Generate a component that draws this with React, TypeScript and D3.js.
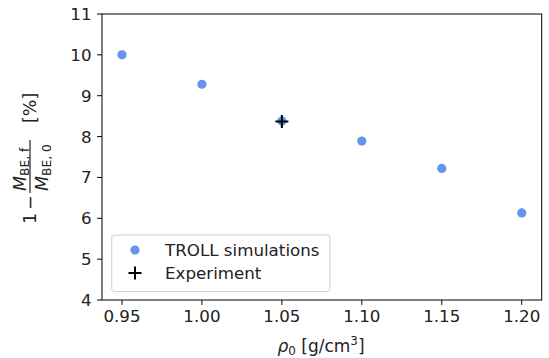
import React from "react";
import * as d3 from "d3";

const rho = [0.95, 1.0, 1.05, 1.1, 1.15, 1.2];
const simValues = [10.0, 9.28, 8.38, 7.89, 7.22, 6.13];
const expRho = [1.05];
const expValues = [8.37];
const xTicks = [0.95, 1.0, 1.05, 1.1, 1.15, 1.2];
const yTicks = [4, 5, 6, 7, 8, 9, 10, 11];
const legendLabels = ["TROLL simulations", "Experiment"];

const W = 549;
const H = 358;
const M = { left: 102, right: 541.7, top: 14, bottom: 300 };
const FONT = "DejaVu Sans";
const FS = 16.7;

export default function App() {
  const x = d3.scaleLinear().domain([0.9375, 1.2125]).range([M.left, M.right]);
  const y = d3.scaleLinear().domain([4, 11]).range([M.bottom, M.top]);
  const fmtX = d3.format(".2f");
  const blue = "#6495ED";
  const plusPath = (cx: number, cy: number, s: number) =>
    `M${cx - s},${cy}H${cx + s}M${cx},${cy - s}V${cy + s}`;

  return (
    <svg
      width={W}
      height={H}
      style={{ position: "absolute", left: 0, top: 0, background: "#fff" }}
      fontFamily={FONT}
    >
      <rect x={0} y={0} width={W} height={H} fill="#fff" />
      {/* ticks */}
      {yTicks.map((t) => (
        <g key={"y" + t}>
          <line x1={M.left - 4.9} x2={M.left} y1={y(t)} y2={y(t)} stroke="#000" strokeWidth={1} />
          <text x={91.5} y={y(t)} dy="0.36em" textAnchor="end" fontSize={FS} fill="#222">
            {t}
          </text>
        </g>
      ))}
      {xTicks.map((t) => (
        <g key={"x" + t}>
          <line x1={x(t)} x2={x(t)} y1={M.bottom} y2={M.bottom + 4.9} stroke="#000" strokeWidth={1} />
          <text x={x(t)} y={M.bottom + 9.5} dy="0.76em" textAnchor="middle" fontSize={FS} fill="#222">
            {fmtX(t)}
          </text>
        </g>
      ))}
      {/* data */}
      {rho.map((r, i) => (
        <circle key={"s" + i} cx={x(r)} cy={y(simValues[i])} r={4.6} fill={blue} />
      ))}
      {expRho.map((r, i) => (
        <path key={"e" + i} d={plusPath(x(r), y(expValues[i]), 6.5)} stroke="#000" strokeWidth={2} fill="none" />
      ))}
      {/* legend */}
      <rect x={111.7} y={235} width={218.3} height={56.5} rx={3} fill="#fff" fillOpacity={0.8} stroke="#d0d0d0" strokeWidth={1} />
      <circle cx={135} cy={250} r={4.6} fill={blue} />
      <path d={plusPath(135, 273, 6.5)} stroke="#000" strokeWidth={2} fill="none" />
      <text x={165} y={250} dy="0.36em" fontSize={FS} fill="#222">{legendLabels[0]}</text>
      <text x={165} y={273} dy="0.36em" fontSize={FS} fill="#222">{legendLabels[1]}</text>
      {/* frame */}
      <rect x={M.left} y={M.top} width={M.right - M.left} height={M.bottom - M.top} fill="none" stroke="#000" strokeWidth={1} />
      {/* x label */}
      <text x={321} y={352} textAnchor="middle" fontSize={17} fill="#222">
        <tspan fontStyle="italic">ρ</tspan>
        <tspan fontSize={11.9} dy={3}>0</tspan>
        <tspan dy={-3}> [g/cm</tspan>
        <tspan fontSize={11.9} dy={-7}>3</tspan>
        <tspan dy={7}>]</tspan>
      </text>
      {/* y label */}
      <g transform="translate(30,224) rotate(-90)" fill="#222" fontSize={17.5}>
        <text x={0} y={6}>1</text>
        <text x={14} y={6}>−</text>
        <line x1={31} x2={84} y1={0} y2={0} stroke="#222" strokeWidth={1.2} />
        <text x={33} y={-4}>
          <tspan fontStyle="italic">M</tspan>
          <tspan fontSize={12.2} dy={3}>BE, f</tspan>
        </text>
        <text x={33} y={18}>
          <tspan fontStyle="italic">M</tspan>
          <tspan fontSize={12.2} dy={3}>BE, 0</tspan>
        </text>
        <text x={101} y={6}>[%]</text>
      </g>
    </svg>
  );
}
